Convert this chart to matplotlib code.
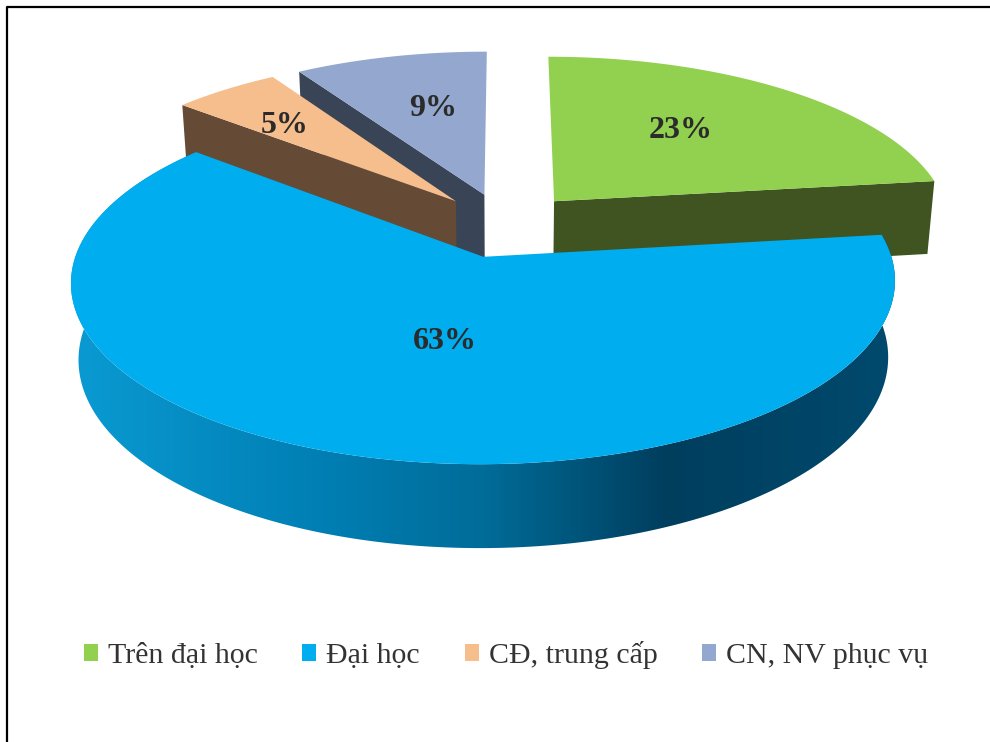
import numpy as np
import matplotlib
matplotlib.use('Agg')
import matplotlib.pyplot as plt
from matplotlib.colors import LinearSegmentedColormap
from matplotlib.patches import Patch, Polygon

plt.rcParams['font.family'] = ['Liberation Serif', 'DejaVu Serif']

categories = ['Trên đại học', 'Đại học', 'CĐ, trung cấp', 'CN, NV phục vụ']
shares = [23, 63, 5, 9]
labels = ['23%', '63%', '5%', '9%']

top_colors = ['#92D050', '#00AEEF', '#F6BE8C', '#93A7CF']
wall_colors = ['#3F5421', '#00AEEF', '#654A36', '#394456']

# fake 3d camera, fitted by eye
CX, CY = 505, 225
A, B = 398, 170
P = 0.135     # perspective
H = 76        # thickness of the pie
Q = 0.017
EXPLODE = 0.19

# label nudges in pixels
label_shift = [(-17, -1), (38, -27), (-28, -6), (8, 0)]


def project(x, y, z=0.0):
    w = 1 + P * y + Q * z
    return CX + A * x / w, CY + (-B * y + H * z) / w


def rim(apex, a0, a1, r=1.0, z=0.0, n=120):
    t = np.radians(np.linspace(a0, a1, n))
    return project(apex[0] + r * np.sin(t), apex[1] + r * np.cos(t), z)


fig = plt.figure(figsize=(9.9, 7.42), dpi=100)
ax = fig.add_axes([0, 0, 1, 1])
ax.set_xlim(0, 990)
ax.set_ylim(742, 0)
ax.axis('off')

edges = np.cumsum([0] + shares) / sum(shares) * 360
slices = []
for i in range(len(shares)):
    mid = np.radians((edges[i] + edges[i + 1]) / 2)
    apex = (EXPLODE * np.sin(mid), EXPLODE * np.cos(mid))
    slices.append((edges[i], edges[i + 1], apex))


def radial_wall(i, angle, order):
    a0, a1, apex = slices[i]
    rx, ry = rim(apex, angle, angle, n=1)
    bx, by = rim(apex, angle, angle, z=1, n=1)
    ax0, ay0 = project(apex[0], apex[1])
    ax1, ay1 = project(apex[0], apex[1], 1)
    pts = [(ax0, ay0), (rx[0], ry[0]), (bx[0], by[0]), (ax1, ay1)]
    ax.add_patch(Polygon(pts, closed=True, fc=wall_colors[i], ec='none', zorder=order))


def top_face(i, order):
    a0, a1, apex = slices[i]
    rx, ry = rim(apex, a0, a1)
    ax0, ay0 = project(apex[0], apex[1])
    pts = np.column_stack([np.r_[ax0, rx], np.r_[ay0, ry]])
    ax.add_patch(Polygon(pts, closed=True, fc=top_colors[i], ec='none', zorder=order))


# back slices first, blue one goes on top of them
radial_wall(3, slices[3][0], 1)
top_face(3, 2)
radial_wall(0, slices[0][1], 1)
top_face(0, 2)
radial_wall(2, slices[2][0], 3)
top_face(2, 4)

# blue side wall, gradient clipped to the rim band
a0, a1, apex = slices[1]
tx, ty = rim(apex, a0, a1, n=240)
bx, by = rim(apex, a0, a1, z=1, n=240)
band = Polygon(np.column_stack([np.r_[tx, bx[::-1]], np.r_[ty, by[::-1]]]),
               closed=True, fc='none', ec='none', zorder=5)
ax.add_patch(band)
side = LinearSegmentedColormap.from_list('side', [
    (0.0, '#0A9AD2'), (0.3, '#007FB4'), (0.5, '#006C98'),
    (0.72, '#003E5E'), (1.0, '#004A6E')])
grad = np.linspace(0, 1, 400).reshape(1, -1)
im = ax.imshow(grad, cmap=side, extent=(tx.min(), bx.max() + 10, 742, 0), aspect='auto', zorder=5)
im.set_clip_path(band)
ax.set_xlim(0, 990)
ax.set_ylim(742, 0)
top_face(1, 6)

# percent labels
for i, lab in enumerate(labels):
    a0, a1, apex = slices[i]
    mid = np.radians((a0 + a1) / 2)
    lx, ly = project(apex[0] + 0.6 * np.sin(mid), apex[1] + 0.6 * np.cos(mid))
    ax.text(lx + label_shift[i][0], ly + label_shift[i][1], lab, fontsize=23, fontweight='bold',
            color='#2B2B2B', ha='center', va='center', zorder=8)

# slide frame, only top and left show
ax.plot([6.5, 6.5, 990], [742, 6.5, 6.5], color='black', lw=1.6, zorder=9)

handles = [Patch(fc=c, ec='none') for c in top_colors]
ax.legend(handles, categories, loc='center', bbox_to_anchor=(506 / 990, 1 - 655 / 742), ncol=4,
          frameon=False, fontsize=21.5, labelcolor='#333333', handlelength=0.47, handleheight=0.5,
          handletextpad=0.33, columnspacing=1.5)

fig.savefig('out.png', dpi=100)
